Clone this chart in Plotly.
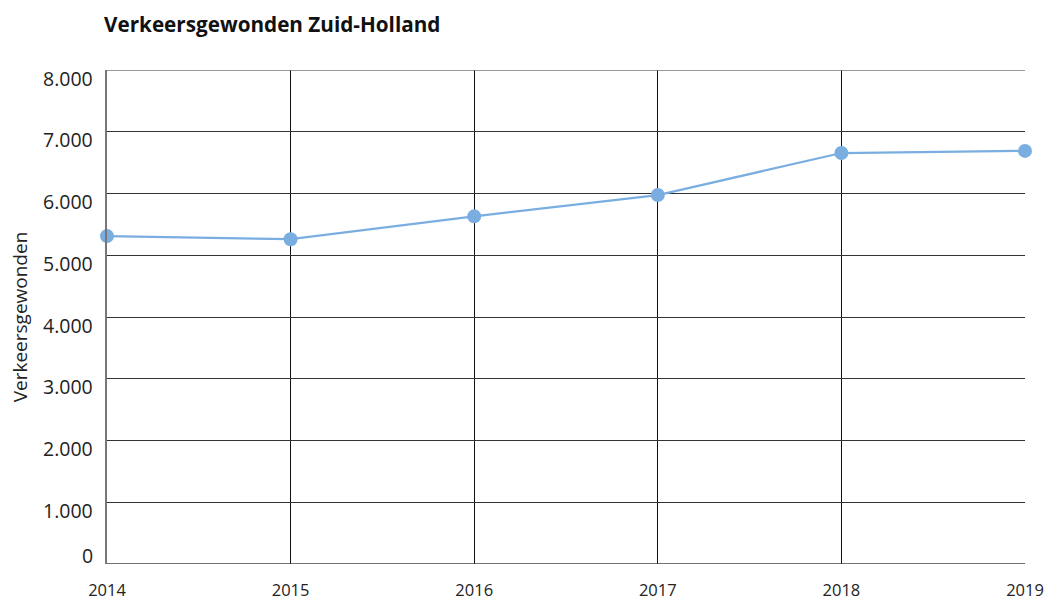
import plotly.graph_objects as go

years = [2014, 2015, 2016, 2017, 2018, 2019]
gewonden = [5310, 5260, 5630, 5975, 6655, 6690]
y_ticks = [0, 1000, 2000, 3000, 4000, 5000, 6000, 7000, 8000]
y_labels = ["0", "1.000", "2.000", "3.000", "4.000", "5.000", "6.000", "7.000", "8.000"]
x_labels = ["2014", "2015", "2016", "2017", "2018", "2019"]

FONT = "Open Sans"
fig = go.Figure()
fig.add_trace(go.Scatter(
    x=years, y=gewonden, mode="lines+markers",
    line=dict(color="#7aade0", width=2.2),
    marker=dict(color="#7aade0", size=14),
    cliponaxis=False, showlegend=False,
))

annotations = []
for v, t in zip(y_ticks, y_labels):
    annotations.append(dict(
        x=0, xref="paper", y=v, yref="y", text=t, showarrow=False,
        xanchor="right", yanchor="middle", xshift=-12,
        yshift=9 if v == 0 else -8,
        font=dict(family=FONT, size=19.5, color="#222"),
    ))

fig.update_layout(
    width=1045, height=599,
    margin=dict(l=107, r=20, t=70, b=35, autoexpand=False),
    paper_bgcolor="white", plot_bgcolor="white",
    title=dict(text="<b>Verkeersgewonden Zuid-Holland</b>", x=104/1045, xanchor="left",
               y=1 - 25/599, yanchor="middle",
               font=dict(family=FONT, size=20.7, color="#111")),
    annotations=annotations,
    xaxis=dict(
        range=[2014, 2019], tickvals=years, ticktext=x_labels,
        showgrid=True, gridcolor="#111", gridwidth=1,
        zeroline=False, showline=False, automargin=False,
        ticks="", ticklabelstandoff=14,
        tickfont=dict(family=FONT, size=16.5, color="#222"),
    ),
    yaxis=dict(
        range=[0, 8000], tickvals=y_ticks, showticklabels=False,
        showgrid=True, gridcolor="#333", gridwidth=1,
        zeroline=False, showline=True, linecolor="#777", linewidth=2,
        mirror=False, automargin=False,
        title=dict(text="Verkeersgewonden", standoff=72,
                   font=dict(family=FONT, size=19, color="#222")),
    ),
)
fig.add_shape(type="line", xref="paper", yref="y", x0=0, x1=1, y0=0, y1=0,
              line=dict(color="#444", width=1.5))
fig.add_shape(type="line", xref="paper", yref="y", x0=0, x1=1, y0=8000, y1=8000,
              line=dict(color="#777", width=1.5))
fig.write_html("out.html", config={"displayModeBar": False},
               post_script="document.body.style.margin='0px';document.body.style.overflow='hidden';")
